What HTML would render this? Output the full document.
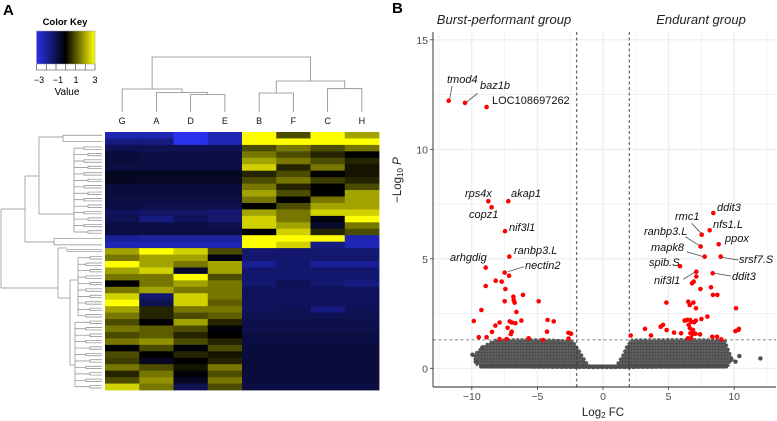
<!DOCTYPE html>
<html><head><meta charset="utf-8">
<style>
body{margin:0;background:#fff;width:777px;height:421px;overflow:hidden}
svg{display:block}
text{font-family:"Liberation Sans",sans-serif}
</style></head>
<body>
<svg id="fig" width="777" height="421" viewBox="0 0 777 421">
<defs>
<linearGradient id="keygrad" x1="0" x2="1" y1="0" y2="0">
<stop offset="0" stop-color="rgb(40,50,235)"/><stop offset="0.5" stop-color="#000"/><stop offset="1" stop-color="rgb(255,255,0)"/>
</linearGradient>
<pattern id="dots" width="3" height="3" patternUnits="userSpaceOnUse">
<rect width="3" height="3" fill="#6a6a6a"/><circle cx="1.5" cy="1.5" r="1.3" fill="#4a4a4a"/>
</pattern>
</defs>
<text x="3" y="15" font-size="15" font-weight="bold">A</text>
<text x="392" y="13" font-size="15" font-weight="bold">B</text>
<g>
<text x="65" y="25" font-size="9.5" font-weight="bold" text-anchor="middle">Color Key</text>
<rect x="36.5" y="31" width="58.5" height="33" fill="url(#keygrad)" stroke="#999" stroke-width="0.5"/>
<g id="keyticks"></g>
<text x="39" y="83" font-size="9" text-anchor="middle">−3</text>
<text x="58" y="83" font-size="9" text-anchor="middle">−1</text>
<text x="76" y="83" font-size="9" text-anchor="middle">1</text>
<text x="95" y="83" font-size="9" text-anchor="middle">3</text>
<text x="67" y="95" font-size="10" text-anchor="middle">Value</text>
</g>
<g id="heat"></g>
<g id="coldend" stroke="#888" stroke-width="0.8" fill="none"></g>
<g id="rowdend" stroke="#888" stroke-width="0.7" fill="none"></g>
<g id="collabels"></g>
<g id="volcano"></g>
</svg>
<script>
const NS="http://www.w3.org/2000/svg";
// ---------- Heatmap data ----------
const sampleLabels=["G","A","D","E","B","F","C","H"];
const heatRows=[
[-2.5,-2.5,-3,-2.5,3,1,3,2],
[-2,-2,-3,-2.5,3,3,3,3],
[-1.5,-1.5,-1.5,-1.5,1,1.5,1,1.5],
[-1.2,-1.3,-1.3,-1.3,1.5,1,0.5,0],
[-1.2,-1.3,-1.3,-1.3,2,1.5,1,0.5],
[-1.3,-1.3,-1.3,-1.3,2.5,0.5,1.5,0.3],
[-0.8,-0.8,-0.8,-0.8,0.5,1,0,0.3],
[-0.8,-0.9,-0.9,-0.9,1,1.5,0.8,0.5],
[-1.2,-1.2,-1.2,-1.2,1.5,0.5,0,1],
[-1.2,-1.2,-1.2,-1.2,2,1,0,2],
[-1.3,-1.3,-1.3,-1.3,1.5,0,1.5,2],
[-1.3,-1.4,-1.4,-1.4,0,1,2,2],
[-1.6,-1.7,-1.7,-1.8,2,1.5,2.5,2.5],
[-1.5,-2,-1.6,-1.8,2.5,1.5,-0.5,3],
[-1.3,-1.3,-1.3,-1.4,2.5,2,-1,1.5],
[-1.3,-1.3,-1.3,-1.3,0,2.5,0.5,1],
[-2.2,-2.3,-2.3,-2.3,3,3,3,-2.5],
[-2.5,-2.5,-2.5,-2.5,3,2.5,-2,-2.5],
[2,3,2.5,1,-1.8,-1.8,-1.8,-1.8],
[1.5,2,2,-0.5,-1.8,-1.8,-1.8,-1.8],
[3,2,1.5,2,-2.2,-1.8,-2.2,-2.2],
[2,2.5,-1,2,-1.8,-1.8,-1.8,-1.8],
[1.5,1.5,3,1,-1.8,-1.8,-1.8,-1.8],
[0,1.5,2,1.5,-1.8,-1.5,-1.8,-2],
[1.5,2,1.5,1.5,-1.6,-1.6,-1.6,-1.6],
[2.5,-1.8,2.5,1.5,-1.6,-1.6,-1.6,-1.6],
[3,-1.5,2.5,1.2,-1.6,-1.6,-1.6,-1.6],
[2,0.5,1.5,1.5,-1.6,-1.5,-2,-1.5],
[1.5,0.5,1,1.2,-1.5,-1.5,-1.5,-1.5],
[1,0,2,0.5,-1.4,-1.4,-1.4,-1.4],
[1.5,1.2,1,-0.3,-1.4,-1.4,-1.4,-1.4],
[1,1.2,0.5,0,-1.3,-1.3,-1.3,-1.3],
[1.5,1.8,1,0.5,-1.3,-1.3,-1.3,-1.3],
[0,1,-0.3,1,-1.2,-1.2,-1.2,-1.2],
[1,0,0.5,0.3,-1.2,-1.2,-1.2,-1.2],
[0.8,-0.8,0,0.5,-1.2,-1.2,-1.2,-1.2],
[1.5,1,0.3,1.5,-1.2,-1.2,-1.2,-1.2],
[0.5,1.5,-0.3,1,-1.2,-1.2,-1.2,-1.2],
[1,1.8,-0.8,1.5,-1.2,-1.2,-1.2,-1.2],
[2.5,1.5,-1.5,1,-1.3,-1.3,-1.3,-1.3]
];
// ---------- Volcano data ----------
const redX=[-11.76,-10.52,-8.87,-8.74,-8.49,-7.22,-7.47,-7.14,-8.94,-7.49,-7.16,8.41,7.52,8.13,7.44,8.82,7.75,8.97,5.87,7.11,8.36,
-8.18,-7.72,-8.94,-7.44,-6.1,-6.83,-6.81,-7.49,-6.74,-4.9,-6.6,-9.27,-9.85,-7.88,-8.2,-7.11,-6.94,-6.68,-6.22,-4.22,-3.76,-7.27,-8.46,-6.96,-7.03,-9.47,-8.87,-5.66,-4.27,-2.64,-2.44,-2.62,-7.34,-7.88,-4.57,
2.11,3.2,3.66,4.4,4.57,4.85,5.41,4.83,5.95,6.22,6.4,6.63,6.73,6.94,6.53,6.63,6.76,6.81,7.07,7.5,7.96,6.5,6.61,6.89,7.09,6.79,6.91,7.42,8.23,8.38,8.71,10.14,6.48,7.39,8.33,8.69,9.02,10.09,10.31,10.36,6.86,6.71,7.11,6.66,7.04];
const redY=[12.22,12.12,11.93,7.63,7.35,7.63,6.26,5.10,4.60,4.37,4.23,7.09,6.10,6.30,5.56,5.66,5.10,5.10,4.66,4.41,4.34,
4.0,3.96,3.76,3.62,3.35,3.27,3.12,3.06,3.0,3.06,2.57,2.66,2.16,2.09,1.95,2.14,2.09,2.06,2.18,2.21,2.14,1.85,1.66,1.67,1.56,1.42,1.42,1.37,1.67,1.62,1.58,1.36,1.34,1.34,1.29,
1.5,1.8,1.5,1.9,1.98,1.75,1.63,3.0,1.6,2.18,2.21,2.21,2.13,2.1,1.98,1.83,1.63,1.55,2.18,2.25,2.36,3.04,2.89,3.0,2.74,3.88,3.96,3.62,3.7,3.35,3.35,2.74,1.37,1.55,1.44,1.44,1.32,1.7,1.75,1.8,1.75,1.37,4.19,1.6,1.58];
const grayCloudX=[-9.6,-9.9,-9.5,-9.0,-8.2,-6,-4,-2.3,-1.9,-1.6,-1.3,-0.9,0.9,1.2,1.5,1.8,2.2,5,7,9.3,9.5,9.8,9.6,9.3,6,0,-6];
const grayCloudY=[0.15,0.6,0.8,1.05,1.3,1.32,1.3,1.25,0.9,0.6,0.3,0.03,0.03,0.3,0.6,1.0,1.3,1.32,1.32,1.3,0.95,0.5,0.15,0.05,0.04,0.02,0.04];
const grayOutX=[-9.95,-9.7,10.39,12.0,9.8,10.1,-9.2];
const grayOutY=[0.62,0.3,0.56,0.45,0.4,0.3,0.95];
const xTicks=[-10,-5,0,5,10];
const yTicks=[0,5,10,15];

function el(tag,attrs,parent){const e=document.createElementNS(NS,tag);for(const k in attrs)e.setAttribute(k,attrs[k]);parent.appendChild(e);return e;}

const kt=document.getElementById('keyticks');
for(let i=0;i<7;i++){const x=36.5+i*58.5/6;const t=el('line',{x1:x,x2:x,y1:64,y2:70,stroke:'#333','stroke-width':0.6},kt);

}
el('line',{x1:36.5,x2:95,y1:70,y2:70,stroke:'#333','stroke-width':0.6},kt);

function heatColor(v){v=Math.max(-3,Math.min(3,v));
 if(v<0){const t=Math.pow(-v/3,1.5);return `rgb(${Math.round(40*t)},${Math.round(50*t)},${Math.round(235*t)})`;}
 const t=Math.pow(v/3,1.1);return `rgb(${Math.round(255*t)},${Math.round(255*t)},0)`;}
const hx0=105,hx1=379,hy0=132,hy1=390;
const cw=(hx1-hx0)/sampleLabels.length, rh=(hy1-hy0)/heatRows.length;
const heat=document.getElementById('heat');
heatRows.forEach((row,r)=>row.forEach((v,c)=>{
 const cell=el('rect',{x:(hx0+c*cw).toFixed(2),y:(hy0+r*rh).toFixed(2),width:(cw+0.4).toFixed(2),height:(rh+0.4).toFixed(2),fill:heatColor(v)},heat);
 
 
}));
const cl=document.getElementById('collabels');
sampleLabels.forEach((s,i)=>{const t=el('text',{x:hx0+(i+0.5)*cw,y:124,'font-size':9,'text-anchor':'middle',fill:'#111'},cl);t.textContent=s;
 
 });
const cd=document.getElementById('coldend');
const cx=i=>hx0+(i+0.5)*cw;
function U(x1,x2,yTop,y1b,y2b){el('path',{d:`M${x1},${y1b}V${yTop}H${x2}V${y2b}`},cd);}
const leafY=112;
U(cx(2),cx(3),94.5,leafY,leafY); const de=(cx(2)+cx(3))/2;
U(cx(1),de,92.5,leafY,94.5); const ade=(cx(1)+de)/2;
U(cx(0),ade,89,leafY,92.5); const g1=(cx(0)+ade)/2;
U(cx(4),cx(5),93,leafY,leafY); const bf=(cx(4)+cx(5))/2;
U(cx(6),cx(7),88.7,leafY,leafY); const ch=(cx(6)+cx(7))/2;
U(bf,ch,81,93,88.7); const g2=(bf+ch)/2;
U(g1,g2,57,89,81);
const rd=document.getElementById('rowdend');
const ry=r=>hy0+(r+0.5)*rh;
function P(d){el('path',{d},rd);}
P('M1,209V288');P('M1,209H25');P('M1,288H58');
P('M25,176V242');P('M25,176H39');P('M25,242H54');
P('M39,137V214');P('M39,137H63');P('M39,214H74');
P('M58,248V298');P('M58,248H67');P('M58,298H70');
P('M70,280V365');P('M70,280H78');P('M70,365H75');
P(`M63,${ry(0)}V${ry(1)}`);P(`M63,${ry(0)}H102`);P(`M63,${ry(1)}H102`);
P(`M74,${ry(2)}V${ry(15)}`);
P(`M54,${ry(16)}V${ry(17)}`);P(`M54,${ry(16)}H102`);P(`M54,${ry(17)}H102`);
P(`M67,${ry(18)-2}V${ry(18)}`);P(`M67,${ry(18)-2}H102`);
P(`M78,${ry(19)}V${ry(28)}`);P(`M75,${ry(29)}V${ry(39)}`);
for(let r=2;r<=15;r++){const x=(r%2)?88:84;P(`M74,${ry(r)}H${x}V${ry(r)-1.2}H102M${x},${ry(r)}V${ry(r)+1.2}H102`);}
P(`M67,${ry(18)}H102`);
for(let r=19;r<=28;r++){const x=(r%2)?90:86;P(`M78,${ry(r)}H${x}V${ry(r)-1.2}H102M${x},${ry(r)}V${ry(r)+1.2}H102`);}
for(let r=29;r<=39;r++){const x=(r%2)?90:86;P(`M75,${ry(r)}H${x}V${ry(r)-1.2}H102M${x},${ry(r)}V${ry(r)+1.2}H102`);}

// ---------- Volcano ----------
const V=document.getElementById('volcano');
const X=v=>603+v*13.12, Y=v=>368.3-v*21.9;
const pl=433,pr=776,pt=32,pb=387;
const grid=el('g',{stroke:'#ebebeb'},V);


[-12.5,-7.5,-2.5,2.5,7.5,12.5].forEach(v=>el('line',{x1:X(v),x2:X(v),y1:pt,y2:pb,'stroke-width':0.6},grid));
[2.5,7.5,12.5].forEach(v=>el('line',{x1:pl,x2:pr,y1:Y(v),y2:Y(v),'stroke-width':0.6},grid));
xTicks.forEach(v=>el('line',{x1:X(v),x2:X(v),y1:pt,y2:pb,'stroke-width':1.1},grid));
yTicks.forEach(v=>el('line',{x1:pl,x2:pr,y1:Y(v),y2:Y(v),'stroke-width':1.1},grid));
let d='';grayCloudX.forEach((x,i)=>{d+=(i?'L':'M')+X(x).toFixed(1)+','+Y(grayCloudY[i]).toFixed(1);});
const cloud=el('path',{d:d+'Z',fill:'url(#dots)',stroke:'#555','stroke-width':2.5,'stroke-linejoin':'round','stroke-dasharray':'3,1.5'},V);


const base=el('line',{x1:X(-9.3),x2:X(9.4),y1:Y(0.08),y2:Y(0.08),stroke:'#4d4d4d','stroke-width':4,'stroke-linecap':'round'},V);


grayOutX.forEach((x,i)=>{const c=el('circle',{cx:X(x),cy:Y(grayOutY[i]),r:2.2,fill:'#4d4d4d'},V);
 
 });
const th=el('g',{stroke:'#333','stroke-width':0.9,'stroke-dasharray':'3,2.5'},V);


el('line',{x1:X(-2),x2:X(-2),y1:pt,y2:pb},th);
el('line',{x1:X(2),x2:X(2),y1:pt,y2:pb},th);
el('line',{x1:pl,x2:pr,y1:Y(1.3),y2:Y(1.3),stroke:'#777'},th);
redX.forEach((x,i)=>{const c=el('circle',{cx:X(x).toFixed(1),cy:Y(redY[i]).toFixed(1),r:2.3,fill:'#ff0000'},V);
 
 });
el('line',{x1:pl,x2:pl,y1:pt,y2:pb,stroke:'#222','stroke-width':0.9},V);
el('line',{x1:pl,x2:pr,y1:pb,y2:pb,stroke:'#222','stroke-width':0.9},V);
xTicks.forEach(v=>{el('line',{x1:X(v),x2:X(v),y1:pb,y2:pb+3,stroke:'#333','stroke-width':0.8},V);
 const t=el('text',{x:X(v),y:pb+13,'font-size':10.5,'text-anchor':'middle',fill:'#4d4d4d'},V);t.textContent=v<0?'−'+(-v):v;
 
 });
yTicks.forEach(v=>{el('line',{x1:pl-3,x2:pl,y1:Y(v),y2:Y(v),stroke:'#333','stroke-width':0.8},V);
 const t=el('text',{x:pl-5,y:Y(v)+4,'font-size':10.5,'text-anchor':'end',fill:'#4d4d4d'},V);t.textContent=v;
 
 });
</script>
<svg style="position:absolute;left:0;top:0" width="777" height="421">
<g font-family="Liberation Sans, sans-serif">
<text x="603" y="416" font-size="11.5" text-anchor="middle" fill="#222">Log<tspan font-size="8" dy="2">2</tspan><tspan dy="-2"> FC</tspan></text>
<text transform="translate(401,180) rotate(-90)" font-size="11.5" text-anchor="middle" fill="#222">−Log<tspan font-size="8" dy="2">10</tspan><tspan dy="-2" font-style="italic"> P</tspan></text>
</g>
<g font-family="Liberation Serif, serif" font-style="italic" font-size="13" fill="#222">
<text x="504" y="24" text-anchor="middle">Burst-performant group</text>
<text x="701" y="24" text-anchor="middle">Endurant group</text>
</g>
<g stroke="#333" stroke-width="0.7">
<line x1="452" y1="86" x2="449.7" y2="99"/><line x1="477.7" y1="93.3" x2="466.7" y2="102"/>
<line x1="524" y1="266.7" x2="508" y2="271.7"/>
<line x1="691.7" y1="223.3" x2="701" y2="233.3"/><line x1="685.3" y1="236.7" x2="700" y2="246"/>
<line x1="686.7" y1="251.7" x2="703.3" y2="256.7"/><line x1="721.7" y1="257.3" x2="738.3" y2="260"/>
<line x1="683.3" y1="279.3" x2="695.7" y2="271.7"/><line x1="730.7" y1="276" x2="715" y2="273.3"/>
</g>
<g font-family="Liberation Sans, sans-serif" font-style="italic" font-size="11" fill="#111">
<text x="447" y="83">tmod4</text>
<text x="480" y="89">baz1b</text>
<text x="492" y="104" font-style="normal">LOC108697262</text>
<text x="465" y="197">rps4x</text>
<text x="469" y="218">copz1</text>
<text x="511" y="197">akap1</text>
<text x="509" y="231">nif3l1</text>
<text x="514" y="254">ranbp3.L</text>
<text x="450" y="261">arhgdig</text>
<text x="525" y="269">nectin2</text>
<text x="717" y="211">ddit3</text>
<text x="675" y="220">rmc1</text>
<text x="713" y="228">nfs1.L</text>
<text x="644" y="235">ranbp3.L</text>
<text x="725" y="242">ppox</text>
<text x="651" y="251">mapk8</text>
<text x="739" y="263">srsf7.S</text>
<text x="649" y="266">spib.S</text>
<text x="654" y="284">nif3l1</text>
<text x="732" y="280">ddit3</text>
</g>
</svg>
</body></html>
